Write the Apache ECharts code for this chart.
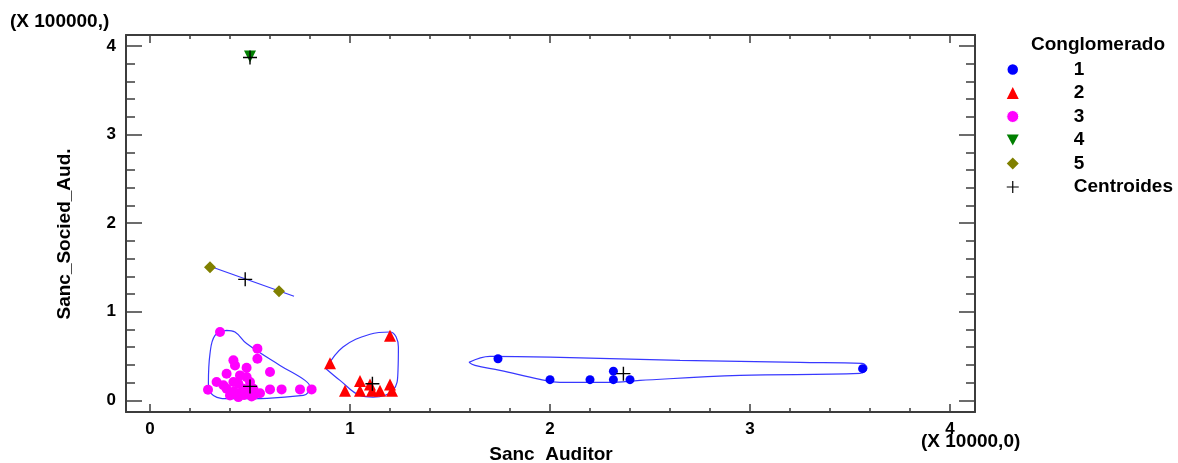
<!DOCTYPE html>
<html>
<head>
<meta charset="utf-8">
<script src="https://cdn.jsdelivr.net/npm/echarts@6/dist/echarts.min.js"></script>
<style>
  html, body { margin: 0; padding: 0; background: #fff; }
  #main { width: 1178px; height: 463px; }
</style>
</head>
<body>
<div id="main"></div>
<script>
// puntos por conglomerado [Sanc Auditor, Sanc_Socied_Aud.]
const grupo1 = [[1.74, 0.47], [2.0, 0.234], [2.2, 0.234], [2.317, 0.33], [2.317, 0.234], [2.4, 0.234], [3.563, 0.358]];
const grupo2 = [[0.9, 0.42], [0.975, 0.11], [1.05, 0.22], [1.05, 0.11], [1.1, 0.18], [1.11, 0.11], [1.15, 0.11], [1.2, 0.18], [1.21, 0.11], [1.2, 0.73]];
const grupo3 = [[0.35, 0.772], [0.537, 0.584], [0.537, 0.471], [0.417, 0.452], [0.483, 0.369], [0.425, 0.395],
  [0.6, 0.32], [0.383, 0.301], [0.45, 0.282], [0.483, 0.263], [0.333, 0.207], [0.29, 0.121], [0.367, 0.17],
  [0.417, 0.207], [0.467, 0.132], [0.517, 0.132], [0.6, 0.124], [0.658, 0.124], [0.75, 0.124], [0.808, 0.124],
  [0.4, 0.056], [0.442, 0.037], [0.508, 0.045], [0.383, 0.132], [0.5, 0.207], [0.442, 0.188],
  [0.45, 0.08], [0.5, 0.1], [0.55, 0.08], [0.47, 0.06], [0.52, 0.06], [0.42, 0.1]];
const grupo4 = [[0.5, 3.88]];
const grupo5 = [[0.3, 1.503], [0.645, 1.232]];
const centroides = [[2.367, 0.302], [1.112, 0.188], [0.5, 0.158], [0.5, 3.87], [0.476, 1.366]];

// contornos de los conglomerados
const contorno1 = [[1.595, 0.429], [1.70, 0.497], [2.05, 0.486], [2.65, 0.452], [3.25, 0.429], [3.56, 0.418],
  [3.585, 0.362], [3.55, 0.305], [2.95, 0.282], [2.45, 0.226], [2.30, 0.203], [2.05, 0.203], [1.95, 0.237],
  [1.75, 0.339], [1.625, 0.395], [1.595, 0.429]];
const contorno2 = [[0.88, 0.358], [0.965, 0.602], [1.10, 0.746], [1.20, 0.772], [1.242, 0.602], [1.24, 0.339],
  [1.215, 0.113], [1.115, 0.037], [1.05, 0.056], [0.95, 0.226], [0.88, 0.358]];
const contorno3 = [[0.383, 0.791], [0.325, 0.734], [0.30, 0.528], [0.292, 0.189], [0.317, 0.056], [0.40, 0.019],
  [0.767, 0.056], [0.80, 0.147], [0.775, 0.226], [0.65, 0.395], [0.483, 0.641], [0.425, 0.772], [0.383, 0.791]];
const contorno5 = [[0.285, 1.525], [0.72, 1.175]];

const nombres = ['1', '2', '3', '4', '5', 'Centroides'];
const xTicks = [0, 1, 2, 3, 4];
const yTicks = [0, 1, 2, 3, 4];
const xMinor = [], yMinor = [];
for (let i = 0; i <= 20; i++) { xMinor.push(+(i * 0.2).toFixed(1)); yMinor.push(+(i * 0.2).toFixed(1)); }

const fuente = 'Liberation Sans, Arial, sans-serif';
const marco = '#3c3c3c';
const cruz = 'path://M0,6.3H14V7.7H0Z M6.3,0H7.7V14H6.3Z';
const trianguloInv = 'path://M0,0L12,0L6,11Z';

function ejeX(pos, mayor, etiquetas, linea) {
  return {
    type: 'value', position: pos, min: -0.12, max: 4.125,
    axisLine: { show: linea, onZero: false, lineStyle: { color: marco, width: 2 } },
    axisTick: { show: true, inside: true, length: mayor ? 8 : 4, customValues: mayor ? xTicks : xMinor,
      lineStyle: { color: marco, width: 1.5 } },
    axisLabel: { show: etiquetas, customValues: xTicks, color: '#000', fontFamily: fuente, fontWeight: 'bold',
      fontSize: 17, margin: 9 },
    splitLine: { show: false }
  };
}
function ejeY(pos, mayor, etiquetas, linea) {
  return {
    type: 'value', position: pos, min: -0.131, max: 4.124,
    axisLine: { show: linea, onZero: false, lineStyle: { color: marco, width: 2 } },
    axisTick: { show: true, inside: true, length: mayor ? 16 : 9, customValues: mayor ? yTicks : yMinor,
      lineStyle: { color: marco, width: 1.5 } },
    axisLabel: { show: etiquetas, customValues: yTicks, color: '#000', fontFamily: fuente, fontWeight: 'bold',
      fontSize: 17, margin: 10 },
    splitLine: { show: false }
  };
}

function contorno(datos) {
  return {
    type: 'line', name: 'contorno', data: datos, smooth: 0.4, symbol: 'none', silent: true, z: 1,
    lineStyle: { color: '#3838ff', width: 1.2 }
  };
}

const chart = echarts.init(document.getElementById('main'), null, { renderer: 'canvas' });
chart.setOption({
  animation: false,
  backgroundColor: '#fff',
  grid: { left: 126, top: 35, width: 849, height: 377 },
  xAxis: [ejeX('bottom', true, true, true), ejeX('bottom', false, false, false),
          ejeX('top', true, false, true), ejeX('top', false, false, false)],
  yAxis: [ejeY('left', true, true, true), ejeY('left', false, false, false),
          ejeY('right', true, false, true), ejeY('right', false, false, false)],
  legend: {
    orient: 'vertical', left: 1001, top: 55, itemGap: 4.5, itemWidth: 12, itemHeight: 12,
    data: [
      { name: '1', icon: 'circle', itemStyle: { borderColor: '#fff', borderWidth: 1.5 } },
      { name: '2', icon: 'triangle' },
      { name: '3', icon: 'circle', itemStyle: { borderColor: '#fff', borderWidth: 1 } },
      { name: '4', icon: trianguloInv },
      { name: '5', icon: 'diamond' },
      { name: 'Centroides', icon: cruz }
    ],
    textStyle: { color: '#000', fontFamily: fuente, fontWeight: 'bold', fontSize: 19, padding: [0, 0, 0, 50] }
  },
  graphic: [
    { type: 'text', left: 10, top: 12, style: { text: '(X 100000,)', fill: '#000', font: 'bold 19px ' + fuente } },
    { type: 'text', left: 921, top: 432, style: { text: '(X 10000,0)', fill: '#000', font: 'bold 19px ' + fuente } },
    { type: 'text', x: 551, y: 455, style: { text: 'Sanc  Auditor', fill: '#000', font: 'bold 19px ' + fuente,
      textAlign: 'center', textVerticalAlign: 'middle' } },
    { type: 'text', x: 65, y: 234, rotation: Math.PI / 2, style: { text: 'Sanc_Socied_Aud.', fill: '#000',
      font: 'bold 19px ' + fuente, textAlign: 'center', textVerticalAlign: 'middle' } },
    { type: 'text', x: 1031, y: 45, style: { text: 'Conglomerado', fill: '#000', font: 'bold 19px ' + fuente,
      textVerticalAlign: 'middle' } }
  ],
  series: [
    contorno(contorno1), contorno(contorno2), contorno(contorno3), contorno(contorno5),
    { type: 'scatter', name: '1', data: grupo1, symbol: 'circle', symbolSize: 9, itemStyle: { color: '#0000ff', opacity: 1 }, z: 3 },
    { type: 'scatter', name: '2', data: grupo2, symbol: 'triangle', symbolSize: 12, itemStyle: { color: '#ff0000', opacity: 1 }, z: 3 },
    { type: 'scatter', name: '3', data: grupo3, symbol: 'circle', symbolSize: 10, itemStyle: { color: '#ff00ff', opacity: 1 }, z: 3 },
    { type: 'scatter', name: '4', data: grupo4, symbol: trianguloInv, symbolSize: 12, itemStyle: { color: '#007f00', opacity: 1 }, z: 3 },
    { type: 'scatter', name: '5', data: grupo5, symbol: 'diamond', symbolSize: 12, itemStyle: { color: '#808000', opacity: 1 }, z: 3 },
    { type: 'scatter', name: 'Centroides', data: centroides, symbol: cruz, symbolSize: 14, itemStyle: { color: '#000', opacity: 1 }, z: 4 }
  ]
});
</script>
</body>
</html>
